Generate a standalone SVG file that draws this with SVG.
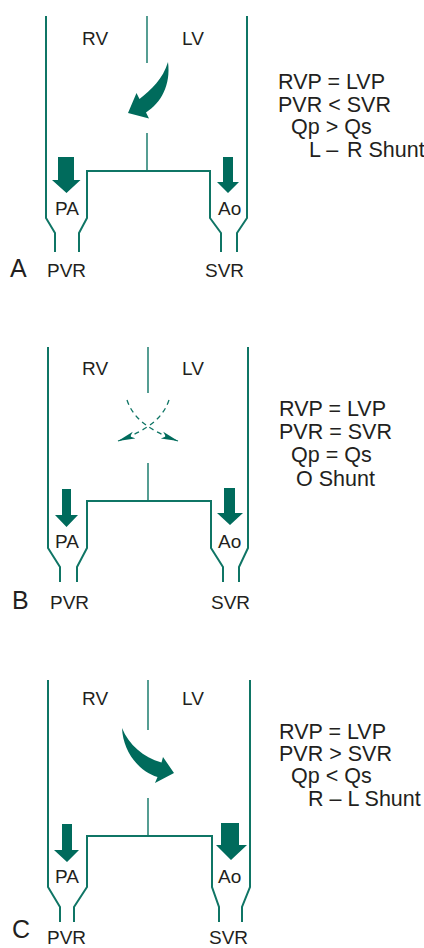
<svg xmlns="http://www.w3.org/2000/svg" width="424" height="948" viewBox="0 0 424 948">
<style>
.wall{fill:none;stroke:#0f7565;stroke-width:2;stroke-linejoin:miter}
.sep{fill:none;stroke:#0f7565;stroke-width:1.4}
.fl{fill:#006b5c;stroke:none}
.dash{fill:none;stroke:#0f7565;stroke-width:1.3;stroke-dasharray:5 4}
.lb{font-family:"Liberation Sans",Arial,sans-serif;font-size:19px;fill:#231f20}
.big{font-family:"Liberation Sans",Arial,sans-serif;font-size:25px;fill:#231f20}
.eq{font-family:"Liberation Sans",Arial,sans-serif;font-size:21.5px;fill:#231f20}
</style>
<defs>
<marker id="hd" markerUnits="userSpaceOnUse" markerWidth="20" markerHeight="10" refX="17" refY="4" orient="auto" viewBox="0 0 20 10">
<path d="M0,0.5 L17,4 L0,7.5 L4,4 Z" fill="#006b5c"/>
</marker>
</defs>

<!-- Panel A -->
<g id="panelA-vessels">
<path class="wall" d="M46,16 V218 L55,233 V252"/>
<path class="wall" d="M79,252 V233 L87,218 V171 H210 V218 L221,233 V252"/>
<path class="wall" d="M247,16 V218 L237,233 V252"/>
<path class="sep" d="M147,16 V63 M147,133 V171"/>
</g>
<g id="panelA-labels">
<text class="lb" x="82" y="45">RV</text>
<text class="lb" x="182" y="45">LV</text>
<text class="lb" x="55" y="215">PA</text>
<text class="lb" x="218" y="215">Ao</text>
<text class="big" x="10" y="277">A</text>
<text class="lb" x="47" y="277">PVR</text>
<text class="lb" x="205" y="277">SVR</text>
</g>
<g id="panelA-text">
<text class="eq" x="278" y="89">RVP = LVP</text>
<text class="eq" x="278" y="111.5">PVR &lt; SVR</text>
<text class="eq" x="291" y="134">Qp &gt; Qs</text>
<text class="eq" y="156.5"><tspan x="309">L –</tspan><tspan x="347">R Shunt</tspan></text>
</g>

<!-- Panel B -->
<g id="panelB-vessels">
<path class="wall" d="M48,347 V548 L60,567 V582"/>
<path class="wall" d="M77,582 V567 L87,548 V501 H211 V548 L223,567 V582"/>
<path class="wall" d="M248,347 V548 L239,567 V582"/>
<path class="sep" d="M148,347 V393 M148,463 V501"/>
</g>
<g id="panelB-labels">
<text class="lb" x="82" y="375">RV</text>
<text class="lb" x="182" y="375">LV</text>
<text class="lb" x="55" y="548">PA</text>
<text class="lb" x="218" y="548">Ao</text>
<text class="big" x="12" y="609">B</text>
<text class="lb" x="50" y="609">PVR</text>
<text class="lb" x="211" y="609">SVR</text>
</g>
<g id="panelB-text">
<text class="eq" x="279" y="416">RVP = LVP</text>
<text class="eq" x="279" y="439">PVR = SVR</text>
<text class="eq" x="291" y="462">Qp = Qs</text>
<text class="eq" x="296" y="486">O Shunt</text>
</g>

<!-- Panel C -->
<g id="panelC-vessels">
<path class="wall" d="M48,680 V887 L60,907 V922"/>
<path class="wall" d="M74,922 V907 L87,887 V836 H212 V887 L219,907 V922"/>
<path class="wall" d="M250,680 V887 L242,907 V922"/>
<path class="sep" d="M148,680 V730 M148,798 V836"/>
</g>
<g id="panelC-labels">
<text class="lb" x="82" y="705">RV</text>
<text class="lb" x="182" y="705">LV</text>
<text class="lb" x="55" y="883">PA</text>
<text class="lb" x="218" y="883">Ao</text>
<text class="big" x="12" y="938">C</text>
<text class="lb" x="47" y="944">PVR</text>
<text class="lb" x="209" y="944">SVR</text>
</g>
<g id="panelC-text">
<text class="eq" x="279" y="739">RVP = LVP</text>
<text class="eq" x="279" y="761">PVR &gt; SVR</text>
<text class="eq" x="291" y="783">Qp &lt; Qs</text>
<text class="eq" x="308" y="806">R – L Shunt</text>
</g>

<!-- Connectors / flow arrows -->
<g id="connectors">
<polygon class="fl" points="58,157 74,157 74,180 80.5,180 66.5,193 52,180 58,180"/>
<polygon class="fl" points="223,157 233,157 233,182 239,182 228,193 217,182 223,182"/>
<path class="fl" d="M168,62 C171,85 161,103 146,112.5 L149,118.5 L128,113 L136.5,93 L139.5,99 C151,90 163,79 168,62 Z"/>

<polygon class="fl" points="62,489 71,489 71,515 78,515 66.5,527 55,515 62,515"/>
<polygon class="fl" points="224,488 235,488 235,513 243,513 230,525 217,513 224,513"/>
<path class="dash" d="M127,400 C133,418 148,430 178,441" marker-end="url(#hd)"/>
<path class="dash" d="M169,400 C163,418 148,430 118,441" marker-end="url(#hd)"/>

<polygon class="fl" points="62,824 72,824 72,850 79,850 67,862 54,850 62,850"/>
<polygon class="fl" points="221,823 239,823 239,845 247,845 231,860 216,845 221,845"/>
<path class="fl" d="M122,728 C123,751 138,771 157.5,777 L155,783 L174,773 L163,757 L161.5,762.5 C143,757 129,745 122,728 Z"/>
</g>
</svg>
